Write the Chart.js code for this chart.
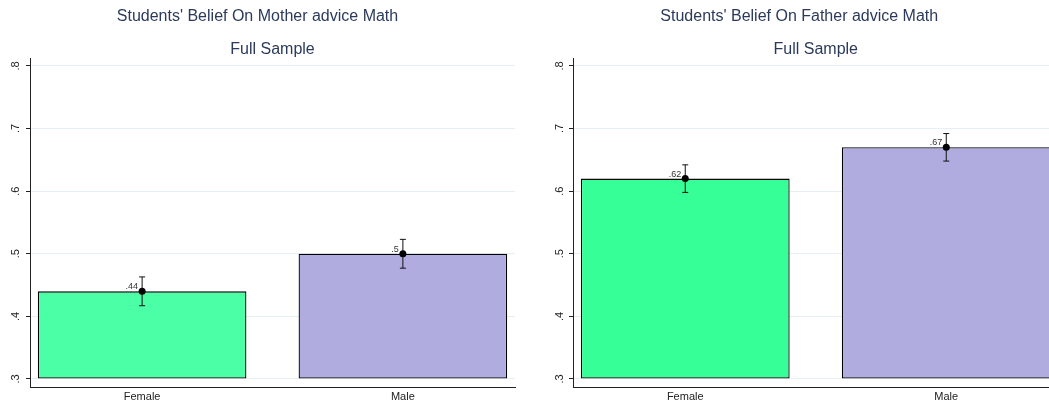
<!DOCTYPE html>
<html>
<head>
<meta charset="utf-8">
<script src="https://cdn.jsdelivr.net/npm/chart.js@4/dist/chart.umd.min.js"></script>
<style>
  body { margin: 0; background: #fff; overflow: hidden; width: 1049px; height: 406px; position: relative; }
  .panel { position: absolute; top: 0; height: 406px; }
</style>
</head>
<body>
<div class="panel" style="left:0;width:520px"><canvas id="mother" width="520" height="406"></canvas></div>
<div class="panel" style="left:540px;width:528px"><canvas id="father" width="528" height="406"></canvas></div>
<script>
const categories = ['Female', 'Male'];
const barPos = [1, 2];
const yTicks = [0.3, 0.4, 0.5, 0.6, 0.7, 0.8];

const motherMean = [0.44, 0.50];
const motherLow = [0.417, 0.477];
const motherHigh = [0.463, 0.523];

const fatherMean = [0.62, 0.67];
const fatherLow = [0.598, 0.648];
const fatherHigh = [0.642, 0.692];

const FONT = '"Liberation Sans", Arial, Helvetica, sans-serif';
const TITLE_COLOR = '#2b3a5c';
Chart.defaults.font.family = FONT;

// .44 style labels, no leading zero
const fmt = v => String(+v.toFixed(2)).replace(/^0/, '');

// mean dot, confidence interval and value label on each bar
const errorBars = {
	id: 'errorBars',
	afterDatasetsDraw(chart, args, opts) {
		const {ctx, scales: {x, y}} = chart;
		ctx.save();
		opts.mean.forEach((m, i) => {
			const px = x.getPixelForValue(barPos[i]);
			const py = y.getPixelForValue(m);
			const lo = y.getPixelForValue(opts.low[i]);
			const hi = y.getPixelForValue(opts.high[i]);
			ctx.strokeStyle = '#111';
			ctx.lineWidth = 1;
			ctx.beginPath();
			ctx.moveTo(px, lo); ctx.lineTo(px, hi);
			ctx.moveTo(px - 3, lo); ctx.lineTo(px + 3, lo);
			ctx.moveTo(px - 3, hi); ctx.lineTo(px + 3, hi);
			ctx.stroke();
			ctx.fillStyle = '#000';
			ctx.beginPath();
			ctx.arc(px, py, 3.5, 0, Math.PI * 2);
			ctx.fill();
			ctx.fillStyle = '#333';
			ctx.font = '9px ' + FONT;
			ctx.textAlign = 'right';
			ctx.textBaseline = 'alphabetic';
			ctx.fillText(fmt(m), px - 4, py - 2);
		});
		ctx.restore();
	}
};

function newChart(canvasId, title, mean, low, high, femaleColor, yWidth, tickPad, padRight) {
	return new Chart(document.getElementById(canvasId).getContext('2d'), {
		type: 'bar',
		data: {
			datasets: [{
				data: barPos.map((p, i) => ({x: p, y: mean[i]})),
				base: 0.3,
				backgroundColor: [femaleColor, '#b0ace0'],
				borderColor: '#000',
				borderWidth: 1.3,
				borderSkipped: false,
				barPercentage: 1,
				categoryPercentage: 0.8,
			}]
		},
		options: {
			responsive: false,
			animation: false,
			layout: {padding: {left: 0, right: padRight, top: 0, bottom: 0}},
			plugins: {
				legend: {display: false},
				tooltip: {enabled: false},
				title: {
					display: true,
					text: title,
					color: TITLE_COLOR,
					font: {size: 16, weight: 'normal'},
					padding: {top: 7, bottom: 13.5}
				},
				subtitle: {
					display: true,
					text: 'Full Sample',
					fullSize: false,
					color: TITLE_COLOR,
					font: {size: 16, weight: 'normal'},
					padding: {top: 0, bottom: 0}
				},
				errorBars: {mean: mean, low: low, high: high}
			},
			scales: {
				x: {
					type: 'linear',
					offset: false,
					min: 0.57,
					max: 2.43,
					afterBuildTicks: s => { s.ticks = barPos.map(v => ({value: v})); },
					afterFit: s => { s.height = 19; },
					grid: {display: false, drawTicks: false, offset: false},
					border: {color: '#222'},
					ticks: {
						callback: (v, i) => categories[i],
						color: '#222',
						font: {size: 11},
						padding: 3,
						autoSkip: false,
						maxRotation: 0
					}
				},
				y: {
					min: 0.2872,
					max: 0.8112,
					afterBuildTicks: s => { s.ticks = yTicks.map(v => ({value: v})); },
					afterFit: s => { s.width = yWidth; },
					grid: {color: '#e6eff1', tickColor: '#222', tickLength: 4},
					border: {color: '#222'},
					ticks: {
						minRotation: 90,
						maxRotation: 90,
						crossAlign: 'center',
						padding: tickPad,
						color: '#222',
						font: {size: 11},
						callback: v => fmt(v)
					}
				}
			}
		},
		plugins: [errorBars]
	});
}

newChart('mother', "Students' Belief On Mother advice Math", motherMean, motherLow, motherHigh, '#4bffa6', 30, 5.5, 5);
newChart('father', "Students' Belief On Father advice Math", fatherMean, fatherLow, fatherHigh, '#36ff98', 33, 4.5, 9.5);
</script>
</body>
</html>
